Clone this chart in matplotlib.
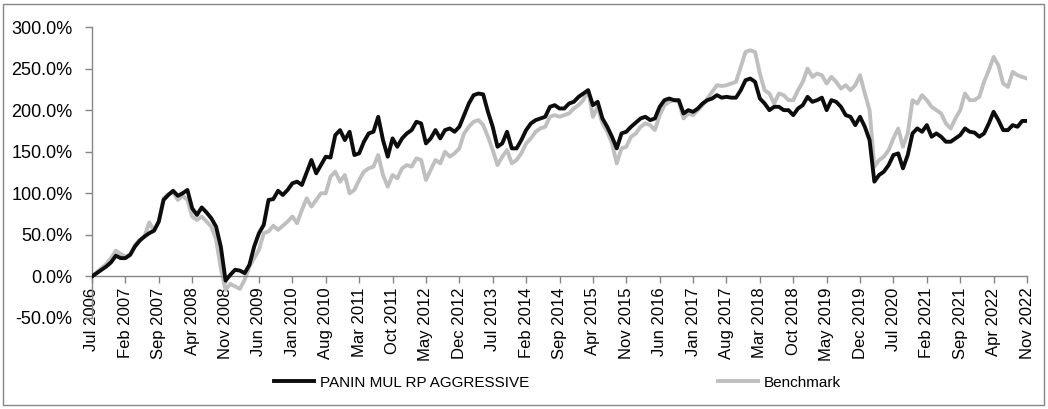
import matplotlib.pyplot as plt
from matplotlib.patches import Rectangle
from matplotlib.ticker import FuncFormatter
import pandas as pd

# monthly cumulative returns (%), Jul 2006 - Nov 2022
fund = [
    0, 4, 8, 12, 17, 25, 22, 22, 26, 36, 43, 48, 52, 55, 66, 92, 98, 103, 97, 100,
    104, 82, 74, 83, 77, 70, 60, 36, -5, 2, 8, 7, 4, 14, 36, 52, 62, 92, 93, 103,
    98, 104, 112, 114, 110, 125, 140, 124, 134, 144, 143, 170, 176, 164, 174, 146, 148, 162, 172, 174,
    192, 164, 144, 166, 156, 166, 172, 176, 186, 184, 160, 166, 176, 166, 176, 178, 174, 180, 194, 208,
    218, 220, 219, 198, 180, 156, 160, 174, 154, 154, 164, 176, 184, 188, 190, 192, 204, 206, 202, 202,
    208, 210, 216, 220, 224, 206, 210, 190, 180, 168, 154, 172, 174, 180, 185, 190, 192, 188, 190, 204,
    212, 214, 212, 212, 196, 200, 198, 202, 208, 212, 214, 218, 215, 216, 215, 215, 224, 236, 238, 234,
    214, 208, 200, 204, 204, 200, 200, 194, 202, 206, 216, 210, 212, 215, 200, 212, 210, 204, 194, 192,
    182, 192, 180, 164, 114, 122, 126, 134, 146, 148, 130, 146, 172, 178, 174, 182, 168, 172, 168, 162,
    162, 166, 170, 178, 174, 173, 168, 172, 184, 198, 188, 176, 176, 182, 180, 187, 187,
]
benchmark = [
    0, 5, 10, 15, 22, 31, 27, 24, 26, 38, 44, 48, 65, 55, 66, 94, 99, 101, 92, 97,
    92, 72, 68, 72, 66, 60, 45, 10, -16, -9, -12, -15, -4, 12, 22, 32, 52, 54, 61, 56,
    61, 66, 72, 64, 80, 94, 84, 92, 100, 100, 120, 126, 114, 122, 100, 104, 116, 126, 130, 132,
    146, 122, 108, 122, 118, 130, 134, 132, 142, 140, 116, 128, 140, 136, 150, 144, 148, 154, 172, 180,
    186, 188, 182, 168, 152, 134, 144, 152, 136, 140, 148, 160, 166, 174, 178, 180, 192, 194, 192, 194,
    196, 202, 206, 212, 224, 192, 204, 184, 174, 160, 136, 154, 156, 168, 172, 180, 184, 182, 176, 194,
    206, 210, 212, 210, 190, 196, 194, 200, 206, 214, 222, 230, 229, 230, 232, 234, 252, 270, 272, 270,
    244, 224, 220, 208, 220, 218, 212, 212, 224, 234, 250, 240, 244, 242, 232, 240, 234, 226, 230, 224,
    230, 242, 220, 200, 132, 140, 144, 152, 166, 178, 156, 172, 212, 208, 218, 212, 204, 200, 196, 184,
    178, 190, 200, 220, 212, 212, 216, 234, 248, 264, 254, 232, 228, 246, 242, 240, 238,
]
months = pd.date_range("2006-07-01", periods=len(fund), freq="MS")
tick_every = 7

plt.rcParams['font.family'] = ['Liberation Sans', 'DejaVu Sans']

fig = plt.figure(figsize=(10.48, 4.09), dpi=100)
ax = fig.add_axes([92 / 1048, 1 - 318 / 409, (1027 - 92) / 1048, (318 - 27) / 409])

# axis styling first: moving the spine resets the ticks
for s in ["top", "right"]:
    ax.spines[s].set_visible(False)
ax.spines["bottom"].set_position(("data", 0))
for s in ["left", "bottom"]:
    ax.spines[s].set_color("#868686")
    ax.spines[s].set_linewidth(1)

x = range(len(fund))
ax.plot(x, fund, color="#0d0d0d", lw=2.8, label="PANIN MUL RP AGGRESSIVE", zorder=3)
ax.plot(x, benchmark, color="#bfbfbf", lw=2.8, label="Benchmark", zorder=2)

ax.set_xlim(0, len(fund) - 1)
ax.set_ylim(-50, 300)
ax.set_yticks(range(-50, 301, 50))
ax.yaxis.set_major_formatter(FuncFormatter(lambda v, p: f"{v:.1f}%"))

ticks = list(range(0, len(fund), tick_every))
ax.set_xticks(ticks)
ax.set_xticklabels([months[i].strftime("%b %Y") for i in ticks])

ax.tick_params(axis="both", colors="#868686", length=5, width=1, labelcolor="black")
ax.tick_params(axis="x", labelrotation=90, pad=3, labelsize=12)
ax.tick_params(axis="y", pad=9, labelsize=13)

fig.legend(loc="center", bbox_to_anchor=(0.532, 0.064), ncol=2, frameon=False,
           fontsize=11, handlelength=2.6, columnspacing=12.4, handletextpad=0.4)

fig.patches.append(Rectangle((3 / 1048, 4 / 409), 1041 / 1048, 401 / 409,
                             transform=fig.transFigure, fill=False,
                             edgecolor="#868686", lw=1))

fig.savefig("out.png", dpi=100)
